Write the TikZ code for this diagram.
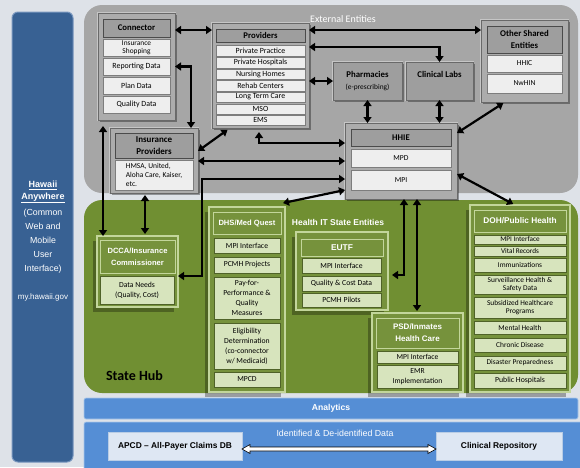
\documentclass[tikz,border=0pt]{standalone}
\usepackage{fontspec}
\setmainfont{Carlito}
\newfontfamily\arialf{Liberation Sans}
\usetikzlibrary{arrows.meta,calc,shadows}
\definecolor{bgc}{RGB}{222,226,232}
\definecolor{gpan}{RGB}{166,166,166}
\definecolor{gfr}{RGB}{172,172,172}
\definecolor{gfrd}{RGB}{105,105,105}
\definecolor{ghd}{RGB}{158,158,158}
\definecolor{ghdd}{RGB}{75,75,75}
\definecolor{gitm}{RGB}{238,238,238}
\definecolor{gitmd}{RGB}{125,125,125}
\definecolor{hubg}{RGB}{112,143,50}
\definecolor{grn}{RGB}{118,146,60}
\definecolor{grnl}{RGB}{195,214,155}
\definecolor{nitm}{RGB}{215,228,189}
\definecolor{nitmd}{RGB}{79,98,40}
\definecolor{dblue}{RGB}{56,97,147}
\definecolor{lblue}{RGB}{85,142,213}
\definecolor{wbx}{RGB}{222,231,243}
\newcommand\mybox[7]{\node[#1, minimum width={#5-#3}, minimum height={#6-#4}] (#2) at ({(#3+#5)/2},{(#4+#6)/2}) {#7};}
\tikzset{
 every node/.style={inner sep=1pt, outer sep=0pt, align=center},
 gframe/.style={fill=gfr, draw=gfrd, line width=0.9pt,
   preaction={draw={rgb,255:red,198;green,198;blue,198}, line width=2.6pt},
   drop shadow={shadow xshift=2pt, shadow yshift=-2pt, opacity=0.35, fill=black}},
 gbox/.style={gframe, fill=ghd},
 ghead/.style={fill=ghd, draw=ghdd, line width=0.8pt, font=\bfseries\fontsize{8.7}{10}\selectfont},
 gitem/.style={fill=gitm, draw=gitmd, line width=0.6pt, inner sep=0.3pt, font=\fontsize{7.9}{8}\selectfont},
 nframe/.style={fill=grn, draw=grnl, line width=1.5pt,
   drop shadow={shadow xshift=-4pt, shadow yshift=-5pt, opacity=0.3, fill=black}},
 nhead/.style={fill=grn, draw=grnl, line width=0.9pt, text=white, font=\arialf\bfseries\fontsize{7.6}{12}\selectfont},
 nitem/.style={fill=nitm, draw=nitmd, line width=0.6pt, inner sep=0.3pt, font=\fontsize{7.7}{10}\selectfont},
 dbl/.style={line width=2.2pt, {Triangle[length=6pt,width=8pt]}-{Triangle[length=6pt,width=8pt]}},
 wbox/.style={fill=wbx, draw={rgb,255:red,185;green,205;blue,229}, line width=0.6pt, font=\arialf\bfseries\fontsize{8.4}{9}\selectfont},
}
\begin{document}
\begin{tikzpicture}[x=1pt,y=-1pt]
\useasboundingbox (0,0) rectangle (580,467);
\fill[bgc] (0,0) rectangle (580,467);
% left bar
\mybox{fill=dblue, draw={rgb,255:red,120;green,150;blue,190}, line width=1pt, rounded corners=6pt}{hawaii}{12}{12}{73}{462}{}
\node[text=white, font=\arialf\bfseries\fontsize{9}{12}\selectfont] (hawt) at (43,192) {\underline{Hawaii}\\\underline{Anywhere}};
\node[text=white, font=\arialf\fontsize{8.8}{14}\selectfont] (hawm) at (43,241) {(Common\\Web and\\Mobile\\User\\Interface)};
\node[text=white, font=\arialf\fontsize{8}{9}\selectfont] (hawu) at (43,297) {my.hawaii.gov};
% panels
\mybox{fill=gpan, rounded corners=18pt}{ext}{84}{5}{578}{193}{}
\node[text=white, font=\fontsize{10}{12}\selectfont] (exttitle) at (343,19) {External Entities};
\mybox{fill=hubg, rounded corners=18pt}{hub}{84}{200}{578}{393}{}
\node[font=\bfseries\fontsize{14}{16}\selectfont, anchor=west] (hubtitle) at (105,376) {State Hub};
\mybox{fill=lblue, draw={rgb,255:red,170;green,200;blue,235}, line width=0.6pt, rounded corners=2pt, text=white, font=\arialf\bfseries\fontsize{8.6}{9}\selectfont}{analytics}{84}{398}{578}{419}{Analytics}
\mybox{fill=lblue, draw={rgb,255:red,170;green,200;blue,235}, line width=0.6pt, rounded corners=2pt}{datas}{84}{422}{582}{472}{}
\node[text=white, font=\arialf\fontsize{8.8}{9}\selectfont] (datat) at (335,433) {Identified \& De-identified Data};
\mybox{wbox}{apcd}{108}{432}{242}{460}{APCD – All-Payer Claims DB}
\mybox{wbox}{crep}{436}{432}{562}{460}{Clinical Repository}
\draw[fill=white, line width=0.6pt] let \p1=(apcd.east |- 0,449), \p2=(crep.west |- 0,449) in
  (\p1) -- ++(8,-4.5) -- ++(0,2.5) -- ($(\p2)+(-8,-2)$) -- ++(0,-2.5) -- (\p2) -- ++(-8,4.5) -- ++(0,-2.5) -- ($(\p1)+(8,2)$) -- ++(0,2.5) -- cycle;
% Connector
\mybox{gframe}{cframe}{98}{13}{175}{120}{}
\mybox{ghead}{chead}{103}{19}{170}{37}{Connector}
\mybox{gitem, font=\fontsize{7.4}{7.6}\selectfont}{cins}{103}{39}{170}{56}{Insurance\\Shopping}
\mybox{gitem}{crep2}{103}{58}{170}{75}{Reporting Data}
\mybox{gitem}{cplan}{103}{77}{170}{94}{Plan Data}
\mybox{gitem}{cqual}{103}{96}{170}{113}{Quality Data}
% Providers
\mybox{gframe}{pframe}{212}{23}{309}{128}{}
\mybox{ghead}{phead}{216}{29}{305}{42}{Providers}
\mybox{gitem}{pp}{216}{45}{305}{56}{Private Practice}
\mybox{gitem}{ph}{216}{57}{305}{68}{Private Hospitals}
\mybox{gitem}{pn}{216}{69}{305}{79}{Nursing Homes}
\mybox{gitem}{pr}{216}{80}{305}{91}{Rehab Centers}
\mybox{gitem}{pl}{216}{92}{305}{102}{Long Term Care}
\mybox{gitem}{pm}{216}{104}{305}{114}{MSO}
\mybox{gitem}{pe}{216}{115}{305}{125}{EMS}
% Insurance providers
\mybox{gframe}{ipframe}{110}{128}{198}{193}{}
\mybox{ghead, font=\bfseries\fontsize{9}{11.5}\selectfont}{iphead}{115}{133}{193}{158}{Insurance\\Providers}
\mybox{gitem, align=left, font=\fontsize{7.5}{9}\selectfont}{ipitem}{115}{160}{193}{190}{HMSA, United,\\Aloha Care, Kaiser,\\etc.}
% Pharmacies, Labs
\mybox{gbox, font=\fontsize{7.4}{12}\selectfont}{pharm}{333}{62}{402}{100}{{\bfseries\fontsize{8.8}{10}\selectfont Pharmacies}\\(e-prescribing)}
\mybox{gbox, font=\fontsize{7.4}{12}\selectfont}{labs}{406}{62}{473}{100}{{\bfseries\fontsize{8.8}{10}\selectfont Clinical Labs}\\\phantom{(e-prescribing)}}
% Other shared
\mybox{gframe}{oframe}{481}{20}{568}{102}{}
\mybox{ghead, font=\bfseries\fontsize{8.8}{11.5}\selectfont}{ohead}{487}{26}{562}{53}{Other Shared\\Entities}
\mybox{gitem, font=\fontsize{7.6}{8}\selectfont}{hhic}{487}{55}{562}{72}{HHIC}
\mybox{gitem, font=\fontsize{7.6}{8}\selectfont}{nwhin}{487}{74}{562}{93}{NwHIN}
% HHIE
\mybox{gframe}{hframe}{345}{123}{457}{199}{}
\mybox{ghead}{hhead}{351}{129}{451}{146}{HHIE}
\mybox{gitem, font=\fontsize{7.6}{8}\selectfont}{hmpd}{351}{149}{451}{167}{MPD}
\mybox{gitem, font=\fontsize{7.6}{8}\selectfont}{hmpi}{351}{170}{451}{190}{MPI}
% DCCA
\mybox{nframe}{dframe}{97}{236}{178}{307}{}
\mybox{nhead}{dhead}{100}{240}{175}{273}{DCCA/Insurance\\Commissioner}
\mybox{nitem}{dneeds}{100}{276}{174}{304}{Data Needs\\(Quality, Cost)}
% DHS
\mybox{nframe}{dhsframe}{209}{207}{285}{392}{}
\mybox{nhead}{dhshead}{213}{212}{281}{234}{DHS/Med Quest}
\mybox{nitem}{dhs1}{214}{238}{280}{253}{MPI Interface}
\mybox{nitem}{dhs2}{214}{257}{280}{273}{PCMH Projects}
\mybox{nitem}{dhs3}{214}{277}{280}{319}{Pay-for-\\Performance \&\\Quality\\Measures}
\mybox{nitem}{dhs4}{214}{323}{280}{369}{Eligibility\\Determination\\(co-connector\\w/ Medicaid)}
\mybox{nitem}{dhs5}{214}{372}{280}{387}{MPCD}
% Health IT State Entities
\node[text=white, font=\arialf\bfseries\fontsize{8.5}{10}\selectfont] (hitse) at (338,222) {Health IT State Entities};
\mybox{nframe}{eframe}{296}{232}{388}{310}{}
\mybox{nhead, font=\arialf\bfseries\fontsize{8.4}{10}\selectfont}{ehead}{301}{239}{383}{256}{EUTF}
\mybox{nitem}{e1}{302}{258}{381}{273}{MPI Interface}
\mybox{nitem}{e2}{302}{276}{381}{291}{Quality \& Cost Data}
\mybox{nitem}{e3}{302}{293}{381}{307}{PCMH Pilots}
% PSD
\mybox{nframe}{psdframe}{372}{313}{463}{392}{}
\mybox{nhead, font=\arialf\bfseries\fontsize{8}{12}\selectfont}{psdhead}{376}{318}{459}{348}{PSD/Inmates\\Health Care}
\mybox{nitem, font=\fontsize{7.6}{8.5}\selectfont}{psd1}{377}{351}{458}{363}{MPI Interface}
\mybox{nitem, font=\fontsize{7.6}{10}\selectfont}{psd2}{377}{365}{458}{388}{EMR\\Implementation}
% DOH
\mybox{nframe}{dohframe}{470}{205}{570}{392}{}
\mybox{nhead, font=\arialf\bfseries\fontsize{8.3}{10}\selectfont}{dohhead}{474}{210}{566}{232}{DOH/Public Health}
\begin{scope}[every node/.append style={inner sep=0pt}]
\mybox{nitem, font=\fontsize{7.2}{8}\selectfont}{doh1}{474}{235}{566}{244}{MPI Interface}
\mybox{nitem, font=\fontsize{7.2}{8}\selectfont}{doh2}{474}{246}{566}{256}{Vital Records}
\mybox{nitem, font=\fontsize{7.4}{8}\selectfont}{doh3}{474}{258}{566}{272}{Immunizations}
\mybox{nitem, font=\fontsize{7.4}{8.6}\selectfont}{doh4}{474}{275}{566}{294}{Surveillance Health \&\\Safety Data}
\mybox{nitem, font=\fontsize{7.4}{8.6}\selectfont}{doh5}{474}{297}{566}{318}{Subsidized Healthcare\\Programs}
\mybox{nitem, font=\fontsize{7.4}{8}\selectfont}{doh6}{474}{321}{566}{334}{Mental Health}
\mybox{nitem, font=\fontsize{7.4}{8}\selectfont}{doh7}{474}{338}{566}{352}{Chronic Disease}
\mybox{nitem, font=\fontsize{7.4}{8}\selectfont}{doh8}{474}{356}{566}{370}{Disaster Preparedness}
\mybox{nitem, font=\fontsize{7.8}{8}\selectfont}{doh9}{474}{373}{566}{388}{Public Hospitals}
\end{scope}
% connectors
\draw[dbl] (cframe.east |- 0,30) -- (pframe.west |- 0,30);
\draw[dbl] (cframe.east |- crep2) -| (191,0 |- ipframe.north);
\draw[dbl, shorten >=3pt] (ipframe.east |- 0,151) -- (230,0 |- pframe.south);
\draw[dbl, shorten <=4pt] (259,0 |- pframe.south) |- (hframe.west |- 0,143);
\draw[dbl] (ipframe.east |- 0,161) -- (hframe.west |- 0,161);
\draw[dbl] (hframe.west |- 0,179) -| (202,0 |- dneeds.north) -- (dframe.east |- dneeds.north);
\draw[dbl] (hframe.west |- 0,190) -- ([shift={(-2,-4)}]dhsframe.north east);
\draw[dbl, shorten <=6pt] (103,0 |- cframe.south) -- (103,0 |- dframe.north);
\draw[dbl, shorten <=2pt, shorten >=2pt] (145,0 |- ipframe.south) -- (145,0 |- dframe.north);
\draw[dbl] (pframe.east |- pharm.west) -- (pharm.west);
\draw[dbl] (pframe.east |- 0,30) -- (oframe.west |- 0,30);
\draw[dbl] (pframe.east |- 0,47) -| (labs.north);
\draw[dbl] (pharm.south) -- (pharm.south |- hframe.north);
\draw[dbl] (labs.south) -- (labs.south |- hframe.north);
\draw[dbl, shorten <=2pt] (505,0 |- oframe.south) -- (hframe.east |- 0,133);
\draw[dbl, shorten >=2pt] (hframe.east |- 0,174) -- (515,0 |- dohframe.north);
\draw[dbl, shorten >=4pt] (404,0 |- hframe.south) |- (eframe.east |- 0,275);
\draw[dbl, shorten >=2pt] (417,0 |- hframe.south) -- (417,0 |- psdframe.north);
\end{tikzpicture}
\end{document}
